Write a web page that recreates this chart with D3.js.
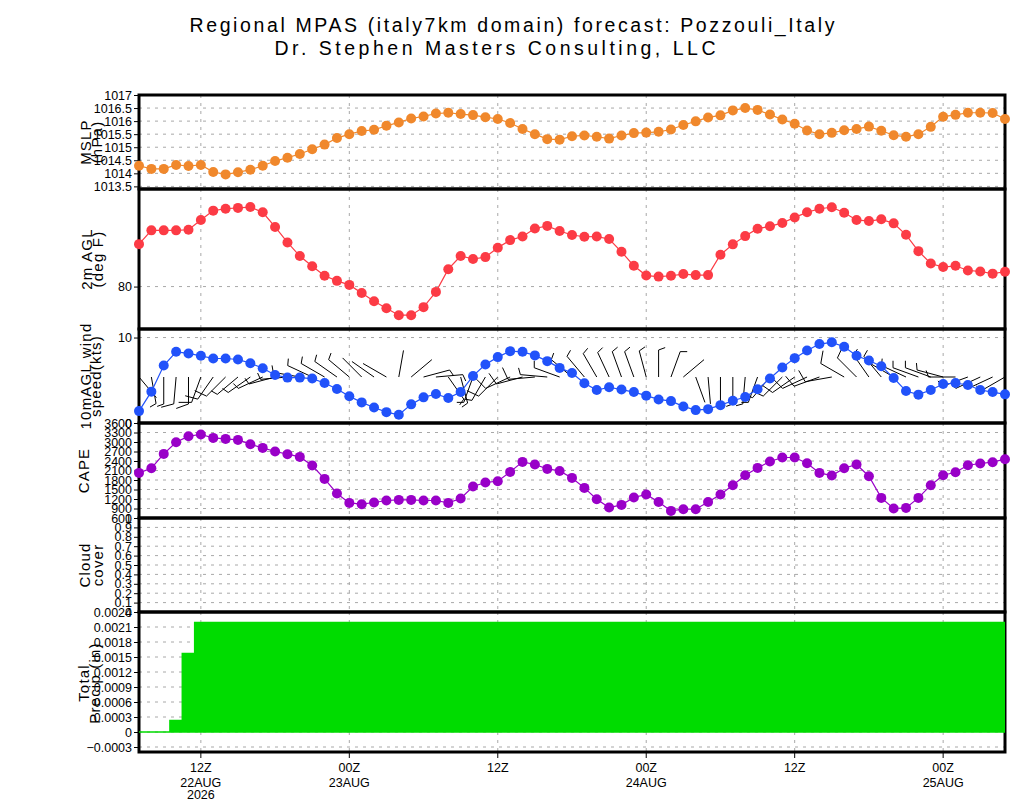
<!DOCTYPE html>
<html>
<head>
<meta charset="utf-8">
<script src="https://cdn.jsdelivr.net/npm/d3@7"></script>
<style>
  body { margin: 0; background: #fff; }
</style>
</head>
<body>
<div id="chart-container"></div>
<script>
// values (hourly, 07Z 22AUG .. 05Z 25AUG)
const startHour = "2026-08-22T07:00:00Z";

const mslp = [1014.29,1014.17,1014.17,1014.32,1014.28,1014.32,1014.05,1013.96,1014.04,1014.14,
  1014.29,1014.47,1014.6,1014.74,1014.92,1015.1,1015.35,1015.5,1015.62,1015.67,
  1015.82,1015.95,1016.1,1016.18,1016.29,1016.32,1016.27,1016.23,1016.15,1016.08,
  1015.93,1015.7,1015.5,1015.31,1015.29,1015.42,1015.45,1015.4,1015.33,1015.45,
  1015.54,1015.56,1015.59,1015.68,1015.85,1015.99,1016.14,1016.22,1016.41,1016.5,
  1016.43,1016.25,1016.06,1015.9,1015.64,1015.5,1015.55,1015.65,1015.7,1015.79,
  1015.63,1015.46,1015.4,1015.5,1015.78,1016.17,1016.24,1016.32,1016.32,1016.31,
  1016.08];

const temp2m = [82.0,82.65,82.65,82.65,82.68,83.14,83.58,83.67,83.71,83.75,
  83.5,82.81,82.08,81.44,80.96,80.51,80.27,80.08,79.7,79.31,
  78.98,78.65,78.65,79.03,79.75,80.82,81.44,81.3,81.39,81.83,
  82.19,82.36,82.74,82.86,82.62,82.43,82.35,82.36,82.24,81.64,
  80.98,80.52,80.47,80.51,80.59,80.54,80.54,81.5,81.99,82.38,
  82.73,82.84,83.0,83.26,83.5,83.67,83.74,83.48,83.14,83.09,
  83.17,82.98,82.44,81.67,81.09,80.92,80.98,80.76,80.71,80.61,
  80.7];

const windSpeed = [1.39,3.67,6.73,8.33,8.14,7.86,7.55,7.55,7.43,7.0,
  6.41,5.62,5.31,5.31,5.2,4.68,3.98,3.12,2.41,1.82,
  1.27,0.96,2.18,3.0,3.39,2.92,3.62,5.51,6.85,7.71,
  8.41,8.33,7.91,7.24,6.45,5.86,4.65,3.86,4.18,3.91,
  3.62,3.2,2.76,2.56,1.94,1.51,1.62,2.09,2.61,3.04,
  3.94,5.2,6.49,7.59,8.49,9.24,9.44,8.92,7.86,7.32,
  6.65,5.27,3.74,3.32,3.86,4.56,4.68,4.45,3.86,3.62,
  3.35];

// direction the wind blows from, degrees
const windDir = [140,170,180,185,180,200,215,225,230,235,
  245,255,265,280,295,300,305,310,315,305,
  300,10,50,75,85,145,165,200,210,225,
  245,255,265,275,290,310,320,330,335,340,
  340,345,0,20,50,160,175,180,180,185,
  200,220,225,235,245,250,260,300,315,325,
  320,300,295,290,290,285,270,250,245,245,
  240];

const cape = [2024,2173,2624,2994,3183,3237,3130,3098,3066,2931,
  2814,2700,2615,2530,2258,1835,1374,1077,1036,1089,
  1153,1172,1172,1153,1153,1077,1216,1595,1721,1762,
  2056,2372,2290,2151,2087,1866,1551,1194,932,1014,
  1247,1342,1108,824,878,878,1108,1342,1636,1952,
  2182,2384,2511,2511,2331,2024,1942,2173,2290,1920,
  1235,900,919,1235,1636,1952,2046,2267,2321,2362,
  2457];

const precip = [0,0,0,0.00023,0.00157,0.00219,0.00219,0.00219,0.00219,0.00219,
  0.00219,0.00219,0.00219,0.00219,0.00219,0.00219,0.00219,0.00219,0.00219,0.00219,
  0.00219,0.00219,0.00219,0.00219,0.00219,0.00219,0.00219,0.00219,0.00219,0.00219,
  0.00219,0.00219,0.00219,0.00219,0.00219,0.00219,0.00219,0.00219,0.00219,0.00219,
  0.00219,0.00219,0.00219,0.00219,0.00219,0.00219,0.00219,0.00219,0.00219,0.00219,
  0.00219,0.00219,0.00219,0.00219,0.00219,0.00219,0.00219,0.00219,0.00219,0.00219,
  0.00219,0.00219,0.00219,0.00219,0.00219,0.00219,0.00219,0.00219,0.00219,0.00219,
  0.00219];

// tick labels
const mslpTicks = [1013.5,1014,1014.5,1015,1015.5,1016,1016.5,1017];
const tempTicks = [80];
const windTicks = [0,10];
const capeTicks = [600,900,1200,1500,1800,2100,2400,2700,3000,3300,3600];
const cloudTicks = [0,0.1,0.2,0.3,0.4,0.5,0.6,0.7,0.8,0.9,1];
const precipTicks = [-0.0003,0,0.0003,0.0006,0.0009,0.0012,0.0015,0.0018,0.0021,0.0024];
const timeTicks = ["2026-08-22T12:00:00Z","2026-08-23T00:00:00Z","2026-08-23T12:00:00Z",
  "2026-08-24T00:00:00Z","2026-08-24T12:00:00Z","2026-08-25T00:00:00Z"];
const hourLabels = ["12Z","00Z","12Z","00Z","12Z","00Z"];
const dateLabels = ["22AUG","23AUG","","24AUG","","25AUG"];
const yearLabels = ["2026","","","","",""];

const FONT = "'Liberation Sans', Arial, sans-serif";

function drawMeteogram() {
  const width = 1024, height = 800;
  const left = 139, right = 1005;

  const times = mslp.map((d, i) => d3.utcHour.offset(new Date(startHour), i));
  const tickTimes = timeTicks.map(d => new Date(d));

  const x = d3.scaleUtc()
    .domain([times[0], times[times.length - 1]])
    .range([left, right]);

  const svg = d3.select("#chart-container")
    .append("svg")
    .attr("width", width)
    .attr("height", height)
    .style("font-family", FONT);

  // title
  svg.append("text")
    .attr("x", 512).attr("y", 32)
    .attr("text-anchor", "middle")
    .attr("textLength", 645).attr("lengthAdjust", "spacing")
    .style("font-family", FONT)
    .style("font-size", "19.5px")
    .text("Regional MPAS (italy7km domain) forecast: Pozzouli_Italy");
  svg.append("text")
    .attr("x", 495).attr("y", 55)
    .attr("text-anchor", "middle")
    .attr("textLength", 441).attr("lengthAdjust", "spacing")
    .style("font-family", FONT)
    .style("font-size", "19.5px")
    .text("Dr. Stephen Masters Consulting, LLC");

  const fmtPlain = d3.format("");
  const fmtPrecip = d => d === 0 ? "0" : d3.format(".4f")(d);

  const panels = [
    { name: "mslp", top: 95, bottom: 189, domain: [1013.4, 1017], ticks: mslpTicks, fmt: fmtPlain,
      title: ["MSLP", "(hPa)"], tx: [91, 102] },
    { name: "temp", top: 189, bottom: 329, domain: [78, 84.6], ticks: tempTicks, fmt: fmtPlain,
      title: ["2m AGL", "(deg F)"], tx: [92, 103] },
    { name: "wind", top: 329, bottom: 423, domain: [0, 11], ticks: windTicks, fmt: fmtPlain,
      title: ["10mAGL wind", "speed(kts)"], tx: [91, 101] },
    { name: "cape", top: 423, bottom: 518, domain: [600, 3600], ticks: capeTicks, fmt: fmtPlain,
      title: ["CAPE"], tx: [89] },
    { name: "cloud", top: 518, bottom: 612, domain: [0, 1], ticks: cloudTicks, fmt: fmtPlain,
      title: ["Cloud", "cover"], tx: [90, 103] },
    { name: "precip", top: 612, bottom: 752, domain: [-0.0004, 0.0024], ticks: precipTicks, fmt: fmtPrecip,
      title: ["Total", "Precip (in)"], tx: [89, 100] }
  ];

  const ys = {};

  panels.forEach(p => {
    const y = d3.scaleLinear().domain(p.domain).range([p.bottom, p.top]);
    ys[p.name] = y;
    const g = svg.append("g").attr("class", "panel-" + p.name);

    // horizontal grid
    g.selectAll(".hgrid")
      .data(p.ticks.filter(t => y(t) > p.top + 1 && y(t) < p.bottom - 1))
      .enter().append("line")
      .attr("x1", left).attr("x2", right)
      .attr("y1", d => y(d)).attr("y2", d => y(d))
      .attr("stroke", "#a8a8a8")
      .attr("stroke-dasharray", "3,5");

    // vertical grid at the 12h ticks
    g.selectAll(".vgrid")
      .data(tickTimes)
      .enter().append("line")
      .attr("x1", d => x(d)).attr("x2", d => x(d))
      .attr("y1", p.top).attr("y2", p.bottom)
      .attr("stroke", "#a8a8a8")
      .attr("stroke-dasharray", "3,5");

    // y axis
    const ax = g.append("g")
      .attr("transform", "translate(" + left + ",0)")
      .call(d3.axisLeft(y).tickValues(p.ticks).tickSize(5).tickPadding(2).tickFormat(p.fmt));
    ax.select(".domain").remove();
    ax.selectAll("line").attr("stroke", "#000");
    ax.selectAll("text")
      .style("font-family", FONT)
      .style("font-size", "12.5px")
      .attr("fill", "#000");

    // axis title
    const cy = (p.top + p.bottom) / 2 + (p.name === "precip" ? 1 : 0);
    p.title.forEach((t, i) => {
      g.append("text")
        .attr("transform", "translate(" + p.tx[i] + "," + cy + ")rotate(-90)")
        .attr("text-anchor", "middle")
        .style("font-family", FONT)
        .style("font-size", "15px")
        .style("letter-spacing", "1.2px")
        .text(t);
    });
  });

  // panel frames
  panels.forEach(p => {
    svg.append("rect")
      .attr("x", left).attr("y", p.top)
      .attr("width", right - left).attr("height", p.bottom - p.top)
      .attr("fill", "none")
      .attr("stroke", "#000")
      .attr("stroke-width", 3);
  });

  // x axis under the last panel
  const xa = svg.append("g").attr("transform", "translate(0,752)");
  xa.selectAll("line")
    .data(tickTimes)
    .enter().append("line")
    .attr("x1", d => x(d)).attr("x2", d => x(d))
    .attr("y1", 0).attr("y2", 6)
    .attr("stroke", "#000");
  const xl = xa.selectAll(".xl")
    .data(tickTimes)
    .enter().append("text")
    .attr("text-anchor", "middle")
    .style("font-family", FONT)
    .style("font-size", "12.5px");
  xl.append("tspan").attr("x", d => x(d)).attr("y", 20).text((d, i) => hourLabels[i]);
  xl.append("tspan").attr("x", d => x(d)).attr("y", 35).text((d, i) => dateLabels[i]);
  xl.append("tspan").attr("x", d => x(d)).attr("y", 47).text((d, i) => yearLabels[i]);

  // precip step area
  const pp = panels[5];
  svg.append("clipPath").attr("id", "clip-precip")
    .append("rect")
    .attr("x", left).attr("y", pp.top)
    .attr("width", right - left).attr("height", pp.bottom - pp.top);
  const yP = ys.precip;
  const area = d3.area()
    .x((d, i) => x(times[i]))
    .y0(yP(0))
    .y1(d => yP(d))
    .curve(d3.curveStep);
  svg.append("path")
    .datum(precip)
    .attr("clip-path", "url(#clip-precip)")
    .attr("d", area)
    .attr("fill", "#00dc00")
    .attr("stroke", "#00dc00")
    .attr("stroke-width", 1.5);

  // wind barbs, anchored at panel middle
  const barbs = svg.append("g")
    .attr("stroke", "#000")
    .attr("stroke-width", 1)
    .attr("fill", "none");
  const midY = 377;
  windSpeed.forEach((s, i) => {
    drawBarb(barbs, x(times[i]), midY, s, windDir[i]);
  });

  // series lines + markers
  const series = [
    { data: mslp, y: ys.mslp, color: "#f0882c" },
    { data: temp2m, y: ys.temp, color: "#fc3b45" },
    { data: windSpeed, y: ys.wind, color: "#2152fa" },
    { data: cape, y: ys.cape, color: "#9900c8" }
  ];
  series.forEach(s => {
    const line = d3.line()
      .x((d, i) => x(times[i]))
      .y(d => s.y(d));
    svg.append("path")
      .datum(s.data)
      .attr("d", line)
      .attr("fill", "none")
      .attr("stroke", s.color)
      .attr("stroke-width", 1.2);
    svg.selectAll(null)
      .data(s.data)
      .enter().append("circle")
      .attr("cx", (d, i) => x(times[i]))
      .attr("cy", d => s.y(d))
      .attr("r", 5)
      .attr("fill", s.color);
  });
}

function drawBarb(g, x0, y0, spd, dir) {
  const L = 27;
  const a = dir * Math.PI / 180;
  const ux = Math.sin(a), uy = -Math.cos(a);
  const tx = x0 + L * ux, ty = y0 + L * uy;
  g.append("line")
    .attr("x1", x0).attr("y1", y0)
    .attr("x2", tx).attr("y2", ty);

  // feathers on the clockwise side
  const r = Math.round(spd / 5) * 5;
  const full = Math.floor(r / 10);
  const half = (r % 10) / 5;
  const fa = (dir + 70) * Math.PI / 180;
  const fx = Math.sin(fa), fy = -Math.cos(fa);
  let k = 0;
  for (let n = 0; n < full; n++) {
    const sx = tx - k * 4 * ux, sy = ty - k * 4 * uy;
    g.append("line")
      .attr("x1", sx).attr("y1", sy)
      .attr("x2", sx + 13 * fx).attr("y2", sy + 13 * fy);
    k++;
  }
  if (half) {
    const sx = tx - k * 4 * ux, sy = ty - k * 4 * uy;
    g.append("line")
      .attr("x1", sx).attr("y1", sy)
      .attr("x2", sx + 7 * fx).attr("y2", sy + 7 * fy);
  }
}

drawMeteogram();
</script>
</body>
</html>
